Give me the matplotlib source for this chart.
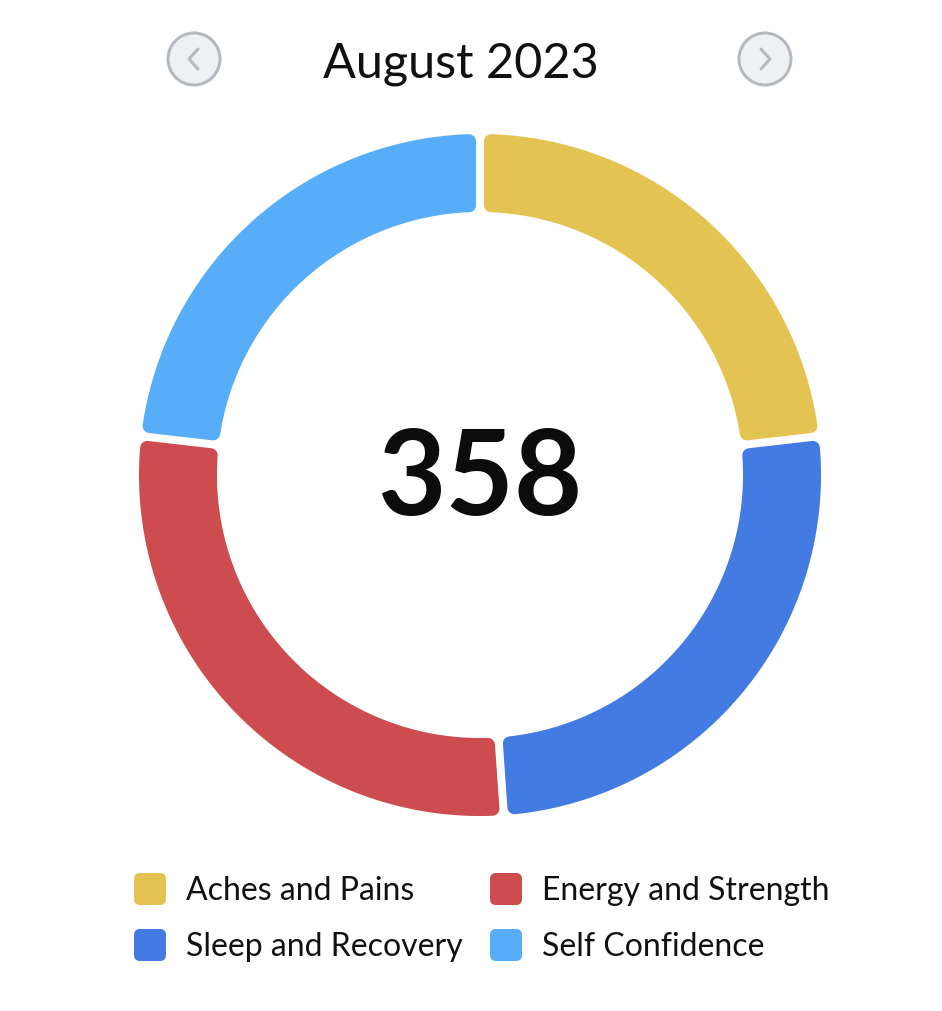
import matplotlib.pyplot as plt
import numpy as np
from matplotlib.patches import Polygon, Circle, FancyBboxPatch

# data, clockwise from 12 o'clock
categories = ['Aches and Pains', 'Sleep and Recovery', 'Energy and Strength', 'Self Confidence']
values = [83, 92, 100, 83]
colors = ['#E3C352', '#437BE3', '#CD4C4F', '#58ADF8']
title = 'August 2023'

plt.rcParams['font.family'] = ['Lato', 'DejaVu Sans']

W, H = 942, 1012
fig = plt.figure(figsize=(W / 100, H / 100), dpi=100)
ax = fig.add_axes([0, 0, 1, 1])
ax.set_xlim(0, W)
ax.set_ylim(H, 0)  # pixel coords, y down
ax.axis('off')

PT = 0.72  # points per pixel at dpi 100

# doughnut with rounded segment corners
cx, cy = 480, 476
r_out, r_in = 341, 263
rc = 7     # corner radius
gap = 8    # white gap between segments
total = sum(values)
start = 0.0
for v, c in zip(values, colors):
    span = 2 * np.pi * v / total
    a0, a1 = start, start + span
    ro, ri = r_out - rc, r_in + rc
    off_o = (gap / 2 + rc) / ro
    off_i = (gap / 2 + rc) / ri
    t_out = np.linspace(a0 + off_o, a1 - off_o, 200)
    t_in = np.linspace(a1 - off_i, a0 + off_i, 200)
    xs = np.r_[cx + ro * np.sin(t_out), cx + ri * np.sin(t_in)]
    ys = np.r_[cy - ro * np.cos(t_out), cy - ri * np.cos(t_in)]
    ax.add_patch(Polygon(np.c_[xs, ys], closed=True, fc=c, ec=c,
                         lw=2 * rc * PT, joinstyle='round'))
    start = a1

# total in the middle
ax.text(cx, 481, str(total), ha='center', va='center', fontsize=85,
        fontweight='bold', color='#0d0c0c')

# header with month navigation
ax.text(461, 64, title, ha='center', va='center', fontsize=35, color='#111111')
btn_edge = '#b4b9c0'
for bx, d in [(194, -1), (765, 1)]:
    ax.add_patch(Circle((bx, 60), 26, fc='#eef0f2', ec=btn_edge, lw=3 * PT))
    ax.plot([bx - 4 * d, bx + 5 * d, bx - 4 * d], [50, 60, 70], color=btn_edge,
            lw=3 * PT, solid_capstyle='round', solid_joinstyle='round')

# legend, two columns
col_x = [134, 490]
row_y = [890, 946]
for i, (lab, c) in enumerate(zip(categories, colors)):
    x0 = col_x[i // 2]
    y0 = row_y[i % 2]
    ax.add_patch(FancyBboxPatch((x0, y0 - 16), 32, 32,
                                boxstyle='round,pad=0,rounding_size=6',
                                fc=c, ec='none'))
    ax.text(x0 + 52, y0 + 1, lab, ha='left', va='center', fontsize=23, color='#111111')

fig.savefig('out.png', dpi=100)
